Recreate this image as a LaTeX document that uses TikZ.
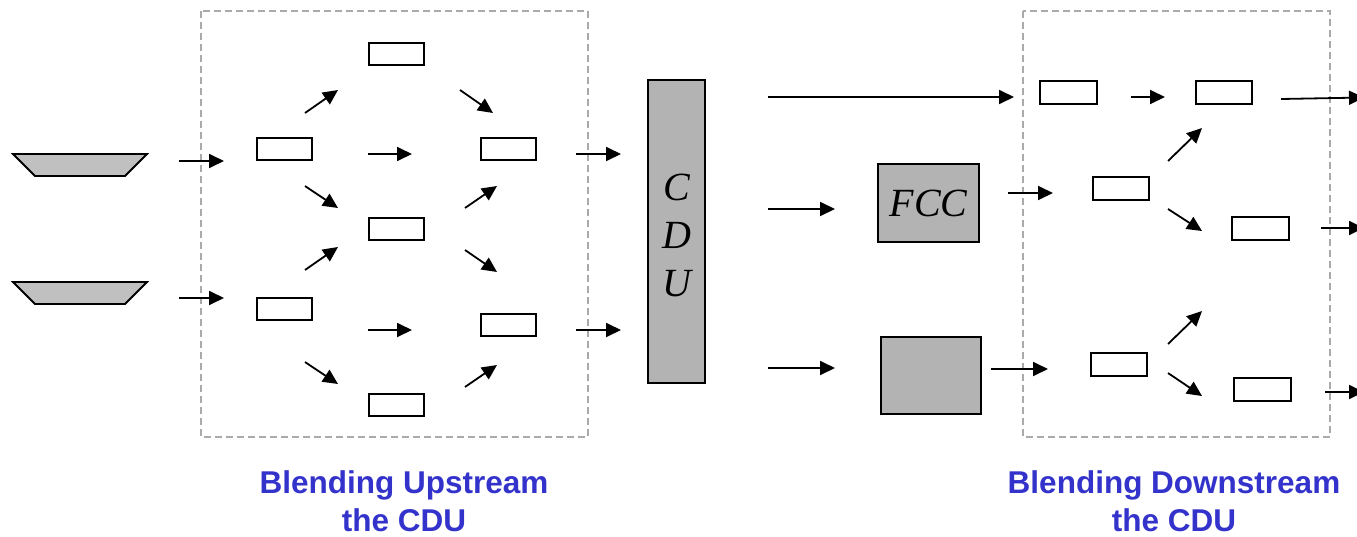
\documentclass[tikz,border=0pt]{standalone}
\usepackage{fontspec}
\setmainfont{Liberation Serif}
\newfontfamily\labelfont{Liberation Sans}
\usetikzlibrary{arrows.meta}
\definecolor{unitgray}{HTML}{B3B3B3}
\definecolor{tankgray}{HTML}{C0C0C0}
\definecolor{framegray}{HTML}{AAAAAA}
\definecolor{capblue}{HTML}{3333CC}

\begin{document}
\begin{tikzpicture}[x=1pt,y=-1pt,
  box/.style={draw,line width=2pt,fill=white,minimum width=55pt,minimum height=22pt,inner sep=0pt},
  unit/.style={draw,line width=2pt,fill=unitgray,inner sep=0pt,font=\itshape\fontsize{40}{48}\selectfont,align=center},
  tank/.style={draw,line width=1.8pt,fill=tankgray,line join=miter},
  frame/.style={draw=framegray,line width=1.3pt,dash pattern=on 7pt off 4pt},
  flow/.style={-{Triangle[length=15pt,width=14pt]},line width=1.8pt},
  caption/.style={text=capblue,inner sep=0pt,font=\labelfont\bfseries\fontsize{31.5}{38}\selectfont,align=center}
]
\useasboundingbox (0,0) rectangle (1357,536);

% blending areas
\draw[frame] (201,11) rectangle (588,437);
\draw[frame] (1023,11) rectangle (1330,437);

% crude oil tanks
\draw[tank] (13,154) -- (147,154) -- (125,176) -- (35,176) -- cycle;
\draw[tank] (13,282) -- (147,282) -- (125,304) -- (35,304) -- cycle;
\draw[flow] (179,161) -- (224,161);
\draw[flow] (179,298) -- (224,298);

% upstream blending network
\node[box] (a1) at (284.5,149) {};
\node[box] (a2) at (284.5,309) {};
\node[box] (b1) at (396.5,54) {};
\node[box] (b2) at (396.5,229) {};
\node[box] (b3) at (396.5,405) {};
\node[box] (c1) at (508.5,149) {};
\node[box] (c2) at (508.5,325) {};

\draw[flow] (305,113) -- (338,90);
\draw[flow] (368,154) -- (412,154);
\draw[flow] (305,186) -- (338,208);
\draw[flow] (305,270) -- (338,247);
\draw[flow] (368,330) -- (412,330);
\draw[flow] (305,362) -- (338,384);
\draw[flow] (460,90) -- (493,113);
\draw[flow] (465,208) -- (497,186);
\draw[flow] (465,250) -- (497,272);
\draw[flow] (465,387) -- (497,365);
\draw[flow] (576,154) -- (621,154);
\draw[flow] (576,330) -- (621,330);

% crude distillation unit and conversion units
\node[unit,minimum width=57pt,minimum height=303pt] (cdu) at (676.5,231.5) {};
\node[font=\itshape\fontsize{40}{48}\selectfont,align=center] (cdutext) at (676.5,235) {C\\D\\U};
\node[unit,minimum width=101pt,minimum height=78pt] (fcc) at (928.5,203) {FCC};
\node[unit,minimum width=100pt,minimum height=77pt] (conv) at (931,375.5) {};

\draw[flow] (768,97) -- (1014,97);
\draw[flow] (768,209) -- (835,209);
\draw[flow] (768,368) -- (835,368);
\draw[flow] (1008,193) -- (1053,193);
\draw[flow] (991,369) -- (1048,369);

% downstream blending network
\node[box,minimum width=57pt,minimum height=23pt] (d1) at (1068.5,92.5) {};
\node[box,minimum width=56pt,minimum height=23pt] (d2) at (1224,92) {};
\node[box,minimum width=56pt,minimum height=23pt] (e1) at (1121,188) {};
\node[box,minimum width=57pt,minimum height=23pt] (e2) at (1260.5,228.5) {};
\node[box,minimum width=56pt,minimum height=23pt] (f1) at (1119,364) {};
\node[box,minimum width=57pt,minimum height=23pt] (f2) at (1262.5,389.5) {};

\draw[flow] (1131,97) -- (1165,97);
\draw[flow] (1281,99) -- (1364,97.5);
\draw[flow] (1168,161) -- (1202,128);
\draw[flow] (1168,209) -- (1202,231);
\draw[flow] (1321,228) -- (1364,228);
\draw[flow] (1168,344) -- (1202,311);
\draw[flow] (1168,373) -- (1202,396);
\draw[flow] (1325,392) -- (1364,392);

% captions
\node[caption] (up) at (404,501) {Blending Upstream\\the CDU};
\node[caption] (down) at (1174,501) {Blending Downstream\\the CDU};
\end{tikzpicture}
\end{document}
